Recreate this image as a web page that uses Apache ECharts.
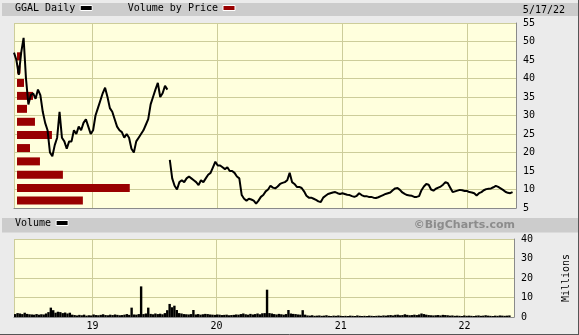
<!DOCTYPE html>
<html>
<head>
<meta charset="utf-8">
<script src="https://cdn.jsdelivr.net/npm/echarts@6/dist/echarts.min.js"></script>
<style>
html,body{margin:0;padding:0;background:#ebebeb;}
#c{width:579px;height:335px;}
</style>
</head>
<body>
<div id="c"></div>
<script>
// ---- data ----
const firstWeek = [2018, 4, 18];       // weekly samples start Fri 2018-05-18
const crashIndex = 65;                 // first weekly sample after the Aug-2019 gap
const price = [
  47, 45, 41, 47, 51, 40, 33, 35.5, 36, 34.5,
  37, 35.5, 31, 28, 26, 20, 19, 22, 24, 31,
  24, 23, 21, 23, 23, 26, 25, 27, 26, 28,
  29, 27, 25, 26, 30, 32, 34, 36, 37.5, 35,
  32, 31, 29, 27, 26, 25.5, 24, 25, 24, 21,
  20, 23, 24, 25, 26, 27.5, 29, 33, 35, 37,
  38.8, 35, 36, 38, 37,
  18, 13, 11, 10, 12,
  12.5, 12, 13, 13.5, 13, 12.5, 12, 11.2, 12.5, 12,
  13, 14, 14.5, 16, 17.5, 16.5, 16.5, 16, 15.5, 16,
  15, 15, 14.5, 13.5, 13, 8.5, 7.5, 7, 7.5, 7.3,
  7, 6.2, 7, 8, 8.5, 9.5, 10, 11, 10.5, 10.3,
  10.8, 11.5, 11.8, 12, 12.5, 14.5, 12, 11.5, 10.7, 10.7,
  10.4, 9.5, 8.3, 7.8, 7.8, 7.5, 7.2, 6.8, 6.6, 7.8,
  8.3, 8.8, 9, 9.2, 9.3, 9.0, 8.8, 9, 8.8, 8.6,
  8.5, 8.2, 8.0, 8.3, 9.0, 8.5, 8.2, 8.2, 8.0, 8.0,
  7.8, 7.7, 7.9, 8.2, 8.5, 8.8, 9, 9.2, 9.8, 10.3,
  10.4, 9.9, 9.2, 8.8, 8.5, 8.4, 8.3, 8.0, 8.0, 8.2,
  9.8, 10.8, 11.5, 11.3, 10, 9.7, 10.2, 10.5, 10.8, 11.3,
  12, 11.7, 10.5, 9.3, 9.5, 9.7, 9.9, 9.8, 9.6, 9.6,
  9.3, 9.2, 9.0, 8.4, 9.0, 9.3, 9.8, 10.1, 10.2, 10.3,
  10.6, 11, 10.7, 10.3, 9.9, 9.4, 9.1, 9.0, 9.3
];
const volume = [
  1.5, 2.0, 1.8, 1.5, 2.2, 1.6, 1.4,
  1.3, 1.2, 1.5, 1.2, 1.4, 1.3, 1.8, 2.5,
  4.8, 3.5, 2.2, 2.7, 2.5, 2.0, 2.3, 1.8, 2.2, 1.2,
  1.0, 0.8, 1.1, 0.9, 1.2, 0.7, 0.9, 0.8, 1.3, 1.0, 0.9, 1.1, 1.4, 1.0, 0.9, 1.2, 1.0, 1.3, 1.1, 0.9, 1.0, 1.2, 1.5, 1.1,
  4.8, 1.3, 1.2, 1.5, 15.7, 1.5, 1.8, 4.8,
  1.6, 1.4, 1.8, 1.5, 1.7, 1.4, 2.0,
  3.5, 6.7, 5.0, 5.8, 3.6, 2.0,
  1.8, 1.5, 1.4, 1.3, 1.5, 3.6, 1.3, 1.5, 1.2, 1.4,
  1.6, 1.5, 1.3, 1.2, 1.1, 1.3, 1.2, 1.0, 1.1, 1.2, 0.9, 1.0, 1.1, 1.3, 1.2,
  1.5, 1.8, 1.4, 1.2, 1.6, 1.3, 1.5, 1.8, 1.4, 1.9, 2.0,
  14.0,
  2.0, 1.8, 1.5, 1.3, 1.6, 1.4, 1.2, 1.5,
  3.6,
  1.8, 1.6, 1.5, 1.3, 1.2, 3.5, 1.2,
  0.8, 0.7, 0.9, 0.6, 0.7, 0.8, 0.6, 0.7, 0.9, 0.6, 0.5, 0.7, 0.6, 0.8, 0.6,
  0.5, 0.6, 0.5, 0.7, 0.6, 0.5, 0.8, 0.6, 0.5, 0.6, 0.5, 0.7, 0.6, 0.5, 0.6, 0.7, 0.6, 0.8, 0.7, 0.9, 1.0, 0.8, 1.1,
  1.2, 0.9, 1.0, 1.4, 1.1, 0.9, 1.0, 1.2, 1.0, 1.3, 1.8, 1.5, 1.2, 1.0, 0.9,
  0.8, 0.9, 1.0, 0.8, 1.1, 1.0, 0.9, 0.7, 0.8, 0.6, 0.7, 0.6, 0.5, 0.8, 0.6, 0.7, 0.6, 0.5, 0.7, 0.8, 0.6, 0.7, 0.9, 0.7, 0.6, 0.5, 0.7, 0.6, 0.8, 0.7, 0.6, 0.7, 0.8
];
// Volume-by-price bands: centre price and relative volume (% of panel width)
const vbpPrice  = [46.0, 42.4, 38.8, 35.3, 31.8, 28.3, 24.7, 21.2, 17.6, 14.0, 10.4, 7.0];
const vbpVolume = [0.8, 0.7, 1.4, 3.2, 2.0, 3.6, 7.0, 2.6, 4.6, 9.2, 22.6, 13.2];
const priceTicks = [5, 55, 5];   // min, max, step
const volTicks = [0, 40, 10];
const axisStart = '2018-05-18', axisEnd = '2022-05-23';
const chartDate = '5/17/22';

// ---- build ----
const weeks = price.map((_, i) => new Date(firstWeek[0], firstWeek[1], firstWeek[2] + 7 * i).getTime());
const priceA = weeks.slice(0, crashIndex).map((t, i) => [t, price[i]]);
const priceB = weeks.slice(crashIndex).map((t, i) => [t, price[i + crashIndex]]);
const volData = weeks.map((t, i) => [t, volume[i]]);
const vbpData = vbpPrice.map((p, i) => [vbpVolume[i], p]);

const MONO = "'DejaVu Sans Mono', monospace";
const GRID = '#cdcd9a';
const PLOT_BG = '#ffffdd';
const BORDER = '#8a8a8a';
const BAND_HALF = 1.08;
const YEAR = 365 * 24 * 3600 * 1000;

function yearLabel(v) {
  const d = new Date(v);
  return (d.getMonth() === 0 && d.getDate() === 1) ? String(d.getFullYear()).slice(2) : '';
}

const chart = echarts.init(document.getElementById('c'), null, {renderer: 'canvas'});
chart.setOption({
  animation: false,
  backgroundColor: '#ebebeb',
  legend: [{
    data: ['GGAL Daily', 'Volume by Price'],
    left: 15, top: 3, padding: 0, align: 'right', itemGap: 35,
    itemWidth: 12, itemHeight: 5, icon: 'rect', selectedMode: false,
    itemStyle: {borderColor: '#fff', borderWidth: 1},
    textStyle: {fontFamily: MONO, fontSize: 10, color: '#000'}
  }, {
    data: ['Volume'],
    left: 15, top: 218, padding: 0, align: 'right',
    itemWidth: 12, itemHeight: 5, icon: 'rect', selectedMode: false,
    itemStyle: {borderColor: '#fff', borderWidth: 1},
    textStyle: {fontFamily: MONO, fontSize: 10, color: '#000'}
  }],
  graphic: [
    {type: 'rect', z: -10, shape: {x: 2, y: 3, width: 577, height: 13}, style: {fill: '#cccccc'}},
    {type: 'rect', z: -10, shape: {x: 2, y: 218, width: 577, height: 14.5}, style: {fill: '#cccccc'}},
    {type: 'text', style: {text: chartDate, x: 565, y: 10, textAlign: 'right', textVerticalAlign: 'middle', font: '10px ' + MONO, fill: '#000'}},
    {type: 'text', style: {text: '©BigCharts.com', x: 515, y: 225.5, textAlign: 'right', textVerticalAlign: 'middle', font: "bold 11px 'DejaVu Sans'", fill: '#8c8c8c'}},
    {type: 'line', shape: {x1: 578.5, y1: 0, x2: 578.5, y2: 335}, style: {stroke: '#555', lineWidth: 1}},
    {type: 'line', shape: {x1: 0, y1: 334.5, x2: 579, y2: 334.5}, style: {stroke: '#555', lineWidth: 1}}
  ],
  grid: [
    {left: 14, right: 63, top: 23, height: 185, show: true, backgroundColor: PLOT_BG, borderWidth: 0},
    {left: 17, right: 63, top: 23, height: 185},
    {left: 14, right: 63, top: 239, height: 78, show: true, backgroundColor: PLOT_BG, borderWidth: 0}
  ],
  xAxis: [
    {type: 'time', gridIndex: 0, min: axisStart, max: axisEnd, splitNumber: 4, minInterval: YEAR,
     axisLabel: {show: false}, axisTick: {show: false},
     axisLine: {show: true, lineStyle: {color: BORDER}},
     splitLine: {show: true, lineStyle: {color: GRID, width: 1}}},
    {type: 'value', gridIndex: 1, min: 0, max: 100, show: false},
    {type: 'time', gridIndex: 2, min: axisStart, max: axisEnd, splitNumber: 4, minInterval: YEAR,
     axisLabel: {formatter: yearLabel, fontFamily: MONO, fontSize: 10, color: '#000', margin: 4, showMinLabel: false, showMaxLabel: false},
     axisTick: {show: false},
     axisLine: {show: true, lineStyle: {color: BORDER}},
     splitLine: {show: true, lineStyle: {color: GRID, width: 1}}}
  ],
  yAxis: [
    {type: 'value', gridIndex: 0, position: 'right', min: priceTicks[0], max: priceTicks[1], interval: priceTicks[2],
     axisLabel: {fontFamily: MONO, fontSize: 10, color: '#000', margin: 7},
     axisTick: {show: false},
     axisLine: {show: true, lineStyle: {color: BORDER}},
     splitLine: {show: true, lineStyle: {color: GRID, width: 1}}},
    {type: 'value', gridIndex: 1, min: priceTicks[0], max: priceTicks[1], show: false},
    {type: 'value', gridIndex: 2, position: 'right', min: volTicks[0], max: volTicks[1], interval: volTicks[2],
     name: 'Millions', nameLocation: 'middle', nameRotate: 90, nameGap: 47,
     nameTextStyle: {fontFamily: MONO, fontSize: 10, color: '#000'},
     axisLabel: {fontFamily: MONO, fontSize: 10, color: '#000', margin: 7},
     axisTick: {show: false},
     axisLine: {show: true, lineStyle: {color: BORDER}},
     splitLine: {show: true, lineStyle: {color: GRID, width: 1}}}
  ],
  series: [
    {name: 'Volume by Price', type: 'custom', xAxisIndex: 1, yAxisIndex: 1, z: 1,
     itemStyle: {color: '#990000'},
     data: vbpData,
     renderItem: function (params, api) {
       const v = api.value(0), p = api.value(1);
       const a = api.coord([0, p + BAND_HALF]);
       const b = api.coord([v, p - BAND_HALF]);
       return {type: 'rect', shape: {x: a[0], y: a[1], width: b[0] - a[0], height: b[1] - a[1]},
               style: {fill: '#990000'}};
     }},
    {name: 'GGAL Daily', type: 'line', xAxisIndex: 0, yAxisIndex: 0, z: 3, showSymbol: false,
     itemStyle: {color: '#000'}, lineStyle: {color: '#000', width: 2}, data: priceA},
    {name: 'GGAL Daily', type: 'line', xAxisIndex: 0, yAxisIndex: 0, z: 3, showSymbol: false,
     itemStyle: {color: '#000'}, lineStyle: {color: '#000', width: 2}, data: priceB},
    {name: 'Volume', type: 'bar', xAxisIndex: 2, yAxisIndex: 2, barWidth: 2.4,
     itemStyle: {color: '#000'}, data: volData}
  ]
});
</script>
</body>
</html>
